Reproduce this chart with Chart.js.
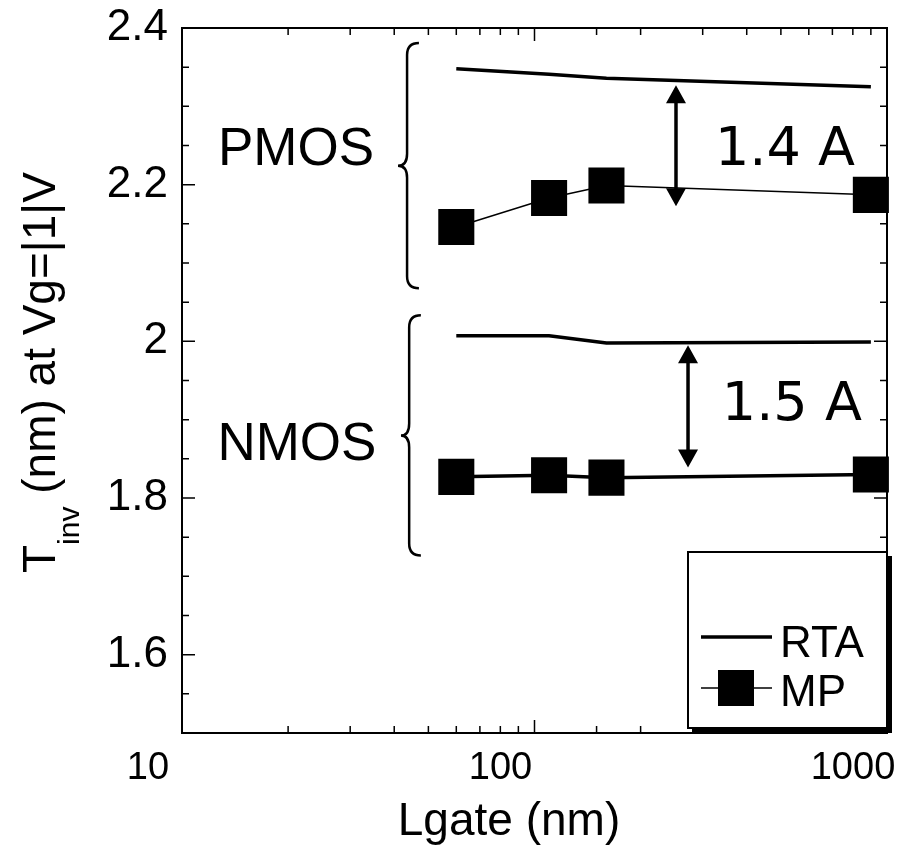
<!DOCTYPE html>
<html>
<head>
<meta charset="utf-8">
<script src="https://cdn.jsdelivr.net/npm/chart.js@4.4.0/dist/chart.umd.min.js"></script>
<style>
  body { margin: 0; background: #fff; }
  #wrap { width: 899px; height: 846px; }
</style>
</head>
<body>
<div id="wrap"><canvas id="chart" width="899" height="846"></canvas></div>
<script>
// gate lengths (nm) and inversion thickness (nm)
const lgate = [60, 110, 160, 900];
const rtaPmos = [2.348, 2.341, 2.336, 2.325];
const rtaNmos = [2.007, 2.007, 1.998, 1.999];
const mpPmos = [2.146, 2.183, 2.199, 2.187];
const mpNmos = [1.827, 1.829, 1.826, 1.830];

const xTickLabels = [10, 100, 1000];
const yTickLabels = [1.6, 1.8, 2, 2.2, 2.4];
const yMinorStep = 0.05;

// annotations, placed in data units
const groupLabels = [
  { text: 'PMOS', x: 12.65, y: 2.225 },
  { text: 'NMOS', x: 12.6, y: 1.848 }
];
const braces = [
  { x: [41.0, 43.5, 47.0], y: [2.381, 2.2243, 2.0677] },
  { x: [41.8, 44.1, 47.6], y: [2.0332, 1.8799, 1.7265] }
];
const gaps = [
  { text: '1.4 A', x: 252, top: 2.327, bottom: 2.1725, tx: 325, ty: 2.2249 },
  { text: '1.5 A', x: 272.6, top: 1.9949, bottom: 1.839, tx: 340, ty: 1.899 }
];

const black = '#000';
const sans = "'Liberation Sans', Arial, sans-serif";

function pts(ys) {
  return lgate.map((x, i) => ({ x: x, y: ys[i] }));
}

const frameAndTicks = {
  id: 'frameAndTicks',
  beforeDatasetsDraw(chart) {
    const { ctx, chartArea: a, scales: { x, y } } = chart;
    ctx.save();
    ctx.strokeStyle = black;
    ctx.lineWidth = 1.5;
    ctx.beginPath();
    x.ticks.forEach(t => {
      const px = x.getPixelForValue(t.value);
      const len = xTickLabels.includes(t.value) ? 13 : 7;
      ctx.moveTo(px, a.bottom); ctx.lineTo(px, a.bottom - len);
      ctx.moveTo(px, a.top); ctx.lineTo(px, a.top + len);
    });
    const n = Math.round((y.max - y.min) / yMinorStep);
    for (let i = 0; i <= n; i++) {
      const v = y.min + i * yMinorStep;
      const py = y.getPixelForValue(v);
      const major = yTickLabels.some(t => Math.abs(t - v) < 1e-6);
      const len = major ? 13 : 7;
      ctx.moveTo(a.left, py); ctx.lineTo(a.left + len, py);
      ctx.moveTo(a.right, py); ctx.lineTo(a.right - len, py);
    }
    ctx.stroke();
    ctx.lineWidth = 2;
    ctx.strokeRect(a.left, a.top, a.right - a.left, a.bottom - a.top);

    // axis titles
    ctx.fillStyle = black;
    ctx.font = '46px ' + sans;
    ctx.textAlign = 'center';
    ctx.textBaseline = 'alphabetic';
    ctx.fillText('Lgate (nm)', 509, 835);

    ctx.translate(55, 573);
    ctx.rotate(-Math.PI / 2);
    ctx.textAlign = 'left';
    ctx.font = '46px ' + sans;
    ctx.fillText('T', 0, 0);
    const w1 = ctx.measureText('T').width;
    ctx.font = '30px ' + sans;
    ctx.fillText('inv', w1, 24);
    const w2 = ctx.measureText('inv').width;
    ctx.font = '46px ' + sans;
    ctx.fillText(' (nm) at Vg=|1|V', w1 + w2, 0);
    ctx.restore();
  },
  afterDatasetsDraw(chart) {
    const { ctx, chartArea: a, scales: { x, y } } = chart;
    ctx.save();
    ctx.fillStyle = black;
    ctx.strokeStyle = black;

    // group labels
    ctx.font = '53px ' + sans;
    ctx.textAlign = 'left';
    ctx.textBaseline = 'alphabetic';
    groupLabels.forEach(g => ctx.fillText(g.text, x.getPixelForValue(g.x), y.getPixelForValue(g.y)));

    // braces
    ctx.lineWidth = 2.5;
    braces.forEach(b => {
      const xt = x.getPixelForValue(b.x[0]), xs = x.getPixelForValue(b.x[1]), xe = x.getPixelForValue(b.x[2]);
      const yt = y.getPixelForValue(b.y[0]), ym = y.getPixelForValue(b.y[1]), yb = y.getPixelForValue(b.y[2]);
      const r = 12;
      ctx.beginPath();
      ctx.moveTo(xe, yt);
      ctx.quadraticCurveTo(xs, yt, xs, yt + r);
      ctx.lineTo(xs, ym - r);
      ctx.quadraticCurveTo(xs, ym, xt, ym);
      ctx.quadraticCurveTo(xs, ym, xs, ym + r);
      ctx.lineTo(xs, yb - r);
      ctx.quadraticCurveTo(xs, yb, xe, yb);
      ctx.stroke();
    });

    // double arrows with gap labels
    gaps.forEach(g => {
      const px = x.getPixelForValue(g.x);
      const y1 = y.getPixelForValue(g.top), y2 = y.getPixelForValue(g.bottom);
      const hl = 18, hw = 10;
      ctx.lineWidth = 3.5;
      ctx.beginPath();
      ctx.moveTo(px, y1 + hl - 2); ctx.lineTo(px, y2 - hl + 2);
      ctx.stroke();
      ctx.beginPath();
      ctx.moveTo(px, y1); ctx.lineTo(px - hw, y1 + hl); ctx.lineTo(px + hw, y1 + hl); ctx.closePath();
      ctx.moveTo(px, y2); ctx.lineTo(px - hw, y2 - hl); ctx.lineTo(px + hw, y2 - hl); ctx.closePath();
      ctx.fill();
      ctx.font = "54px 'DejaVu Sans', sans-serif";
      ctx.fillText(g.text, x.getPixelForValue(g.tx), y.getPixelForValue(g.ty));
    });

    // legend box with drop shadow
    const bw = 199, bh = 176;
    const bx = a.right - bw, by = a.bottom - 5 - bh;
    ctx.fillRect(bx + 4, by + 4, bw + 1, bh + 1);
    ctx.fillStyle = '#fff';
    ctx.fillRect(bx, by, bw, bh);
    ctx.fillStyle = black;
    ctx.lineWidth = 2;
    ctx.strokeRect(bx, by, bw, bh);

    const rta = chart.data.datasets[0], mp = chart.data.datasets[2];
    ctx.lineWidth = rta.borderWidth;
    ctx.beginPath();
    ctx.moveTo(bx + 13, by + 85); ctx.lineTo(bx + 84, by + 85);
    ctx.stroke();
    ctx.lineWidth = mp.borderWidth;
    ctx.beginPath();
    ctx.moveTo(bx + 13, by + 136); ctx.lineTo(bx + 84, by + 136);
    ctx.stroke();
    ctx.fillRect(bx + 30, by + 118, 36, 36);
    ctx.font = '44px ' + sans;
    ctx.fillText(rta.label, bx + 92, by + 105);
    ctx.fillText(mp.label, bx + 92, by + 154);
    ctx.restore();
  }
};

new Chart(document.getElementById('chart'), {
  type: 'line',
  data: {
    datasets: [
      { label: 'RTA', data: pts(rtaPmos), borderColor: black, borderWidth: 3.5, pointRadius: 0, tension: 0 },
      { label: 'RTA', data: pts(rtaNmos), borderColor: black, borderWidth: 3.5, pointRadius: 0, tension: 0 },
      { label: 'MP', data: pts(mpPmos), borderColor: black, borderWidth: 1.5, pointStyle: 'rect',
        pointRadius: 25.5, pointBackgroundColor: black, pointBorderWidth: 0, tension: 0 },
      { label: 'MP', data: pts(mpNmos), borderColor: black, borderWidth: 3.5, pointStyle: 'rect',
        pointRadius: 25.5, pointBackgroundColor: black, pointBorderWidth: 0, tension: 0 }
    ]
  },
  options: {
    responsive: false,
    animation: false,
    clip: false,
    layout: { autoPadding: false, padding: { top: 28, right: 12, left: 0, bottom: 0 } },
    plugins: { legend: { display: false }, tooltip: { enabled: false } },
    scales: {
      x: {
        type: 'logarithmic',
        min: 10,
        max: 1000,
        grid: { display: false, drawTicks: false },
        border: { display: false },
        ticks: {
          color: black,
          font: { family: sans, size: 38 },
          labelOffset: -34,
          padding: 13,
          maxRotation: 0,
          autoSkip: false,
          callback: v => xTickLabels.includes(v) ? String(v) : ''
        },
        afterFit: s => { s.height = 113; s.paddingLeft = 0; s.paddingRight = 0; }
      },
      y: {
        min: 1.5,
        max: 2.4,
        grid: { display: false, drawTicks: false },
        border: { display: false },
        ticks: {
          stepSize: 0.2,
          color: black,
          font: { family: sans, size: 44 },
          padding: 14,
          callback: v => yTickLabels.some(t => Math.abs(t - v) < 1e-6) ? String(Number(v.toFixed(1))) : ''
        },
        afterFit: s => { s.width = 182; s.paddingTop = 0; s.paddingBottom = 0; }
      }
    }
  },
  plugins: [frameAndTicks]
});
</script>
</body>
</html>
